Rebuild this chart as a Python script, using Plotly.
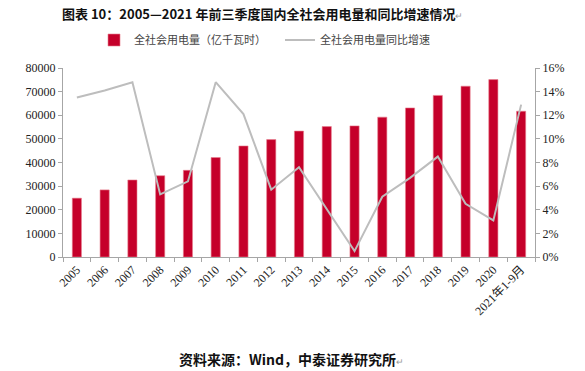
import plotly.graph_objects as go

categories = ["2005", "2006", "2007", "2008", "2009", "2010", "2011", "2012", "2013",
              "2014", "2015", "2016", "2017", "2018", "2019", "2020", "2021年1-9月"]
consumption = [24900, 28400, 32600, 34400, 36700, 42100, 47000, 49700, 53300,
               55200, 55500, 59200, 63100, 68400, 72300, 75100, 61700]
growth_pct = [13.5, 14.1, 14.8, 5.3, 6.4, 14.8, 12.1, 5.7, 7.6,
              4.0, 0.5, 5.1, 6.7, 8.5, 4.5, 3.1, 12.9]

left_ticks = [0, 10000, 20000, 30000, 40000, 50000, 60000, 70000, 80000]
right_ticks = [0, 2, 4, 6, 8, 10, 12, 14, 16]
right_ticktext = [f"{v}%" for v in right_ticks]

serif = "Liberation Serif, Times New Roman, serif"
cjk = "Noto Sans CJK SC"

fig = go.Figure()
fig.add_trace(go.Bar(
    x=categories, y=consumption, name="全社会用电量（亿千瓦时）",
    marker=dict(color="#C5002A", line=dict(color="#E8808F", width=0.6)),
    yaxis="y",
))
fig.add_trace(go.Scatter(
    x=categories, y=growth_pct, name="全社会用电量同比增速",
    mode="lines", line=dict(color="#BDBDBD", width=2),
    yaxis="y2",
))

fig.update_layout(
    width=585, height=371,
    margin=dict(l=63, r=50, t=68, b=114, autoexpand=False),
    paper_bgcolor="white", plot_bgcolor="white",
    bargap=0.67,
    showlegend=True,
    legend=dict(orientation="h", x=0.0657, y=1.148, xanchor="left", yanchor="middle",
                font=dict(family=cjk, size=11, color="#444"),
                itemwidth=30, entrywidth=141, entrywidthmode="pixels",
                bgcolor="rgba(0,0,0,0)"),
    xaxis=dict(type="category", tickangle=-45, tickson="boundaries", automargin=False,
               showline=True, linecolor="#A6A6A6", linewidth=1,
               ticks="outside", ticklen=4, tickcolor="#A6A6A6",
               tickfont=dict(family=serif + ", " + cjk, size=12, color="#222"),
               showgrid=False),
    yaxis=dict(range=[0, 80000], tickvals=left_ticks, ticktext=[str(v) for v in left_ticks],
               automargin=False,
               showline=True, linecolor="#A6A6A6", linewidth=1,
               ticks="outside", ticklen=4, tickcolor="#A6A6A6",
               tickfont=dict(family=serif, size=12, color="#222"),
               showgrid=False, zeroline=False),
    yaxis2=dict(range=[0, 16], tickvals=right_ticks, ticktext=right_ticktext,
                overlaying="y", side="right", automargin=False,
                showline=True, linecolor="#A6A6A6", linewidth=1,
                ticks="outside", ticklen=4, tickcolor="#A6A6A6",
                tickfont=dict(family=serif, size=12, color="#222"),
                showgrid=False, zeroline=False),
)

fig.add_annotation(
    text="<b>图表 10：2005—2021 年前三季度国内全社会用电量和同比增速情况</b><span style='color:#999;font-size:9px'>↵</span>",
    xref="paper", yref="paper", x=(262 - 63) / 472, y=(257 - 13) / 189,
    xanchor="center", yanchor="middle", showarrow=False,
    font=dict(family=cjk, size=13, color="#111"),
)
fig.add_annotation(
    text="<b>资料来源：Wind，中泰证券研究所</b><span style='color:#999;font-size:9px'>↵</span>",
    xref="paper", yref="paper", x=(177 - 63) / 472, y=(257 - 359) / 189,
    xanchor="left", yanchor="middle", showarrow=False,
    font=dict(family=cjk, size=14, color="#111"),
)

fig.write_html("out.html", config={"displayModeBar": False},
               post_script="document.body.style.margin='0';")
